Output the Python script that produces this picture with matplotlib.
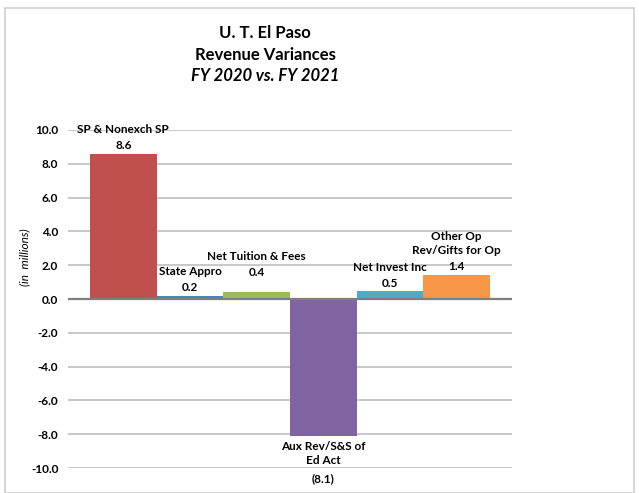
import numpy as np
import matplotlib.pyplot as plt
from matplotlib.patches import Rectangle

plt.rcParams['font.family'] = ['Lato', 'DejaVu Sans']

# data
names = ['SP & Nonexch SP', 'State Appro', 'Net Tuition & Fees',
         'Aux Rev/S&S of\nEd Act', 'Net Invest Inc', 'Other Op\nRev/Gifts for Op']
values = [8.6, 0.2, 0.4, -8.1, 0.5, 1.4]
colors = ['#C0504D', '#4F81BD', '#9BBB59', '#8064A2', '#4BACC6', '#F79646']
yticks = np.arange(-10, 10.1, 2)

# label offsets in pixels (Excel nudged the tuition label up)
label_offsets = [3, 3, 14, 5, 2, 3]
pitch = 16  # pixels per label line

fig = plt.figure(figsize=(6.39, 4.93), dpi=100)
fig.patches.append(Rectangle((5 / 639, 0), 629 / 639, 485 / 493, transform=fig.transFigure,
                             fill=False, edgecolor='#d0d0d0', lw=1.2))

ax = fig.add_axes([68 / 639, 1 - 468 / 493, 444 / 639, 338 / 493])
x = np.arange(len(values))
ax.bar(x, values, width=1.0, color=colors, zorder=3)
ax.set_xlim(-0.83, 5.83)
ax.set_ylim(-10, 10)
ax.set_yticks(yticks)
ax.set_yticklabels([f'{t:.1f}' for t in yticks], fontsize=8.5, fontweight='bold')
ax.set_xticks([])
ax.tick_params(axis='y', length=0, pad=7)
for s in ax.spines.values():
    s.set_visible(False)
ax.grid(axis='y', color='#bfbfbf', lw=1.2, zorder=0)
ax.axhline(0, color='#7f7f7f', lw=1.6, zorder=4)

kw = dict(textcoords='offset pixels', ha='center', fontsize=8.5,
          fontweight='bold', linespacing=1.35, zorder=5)
for i, (n, v) in enumerate(zip(names, values)):
    off = label_offsets[i]
    nlines = n.count('\n') + 1
    if v >= 0:
        ax.annotate(f'{v:.1f}', xy=(i, v), xytext=(0, off), va='bottom', **kw)
        ax.annotate(n, xy=(i, v), xytext=(0, off + pitch), va='bottom', **kw)
    else:
        ax.annotate(n, xy=(i, v), xytext=(0, -off), va='top', **kw)
        ax.annotate(f'({abs(v):.1f})', xy=(i, v), xytext=(0, -off - pitch * nlines),
                    va='top', **kw)

ax.set_ylabel('(in  millions)', fontsize=8.5, fontstyle='italic')
ax.yaxis.set_label_coords(-0.085, 0.624)

fig.text(265 / 639, 1 - 33 / 493, 'U. T. El Paso', ha='center', va='center',
         fontsize=12, fontweight='bold')
fig.text(265 / 639, 1 - 55 / 493, 'Revenue Variances', ha='center', va='center',
         fontsize=12, fontweight='bold')
fig.text(265 / 639, 1 - 76 / 493, 'FY 2020 vs. FY 2021', ha='center', va='center',
         fontsize=12, fontweight='bold', fontstyle='italic')

fig.savefig('out.png', dpi=100)
